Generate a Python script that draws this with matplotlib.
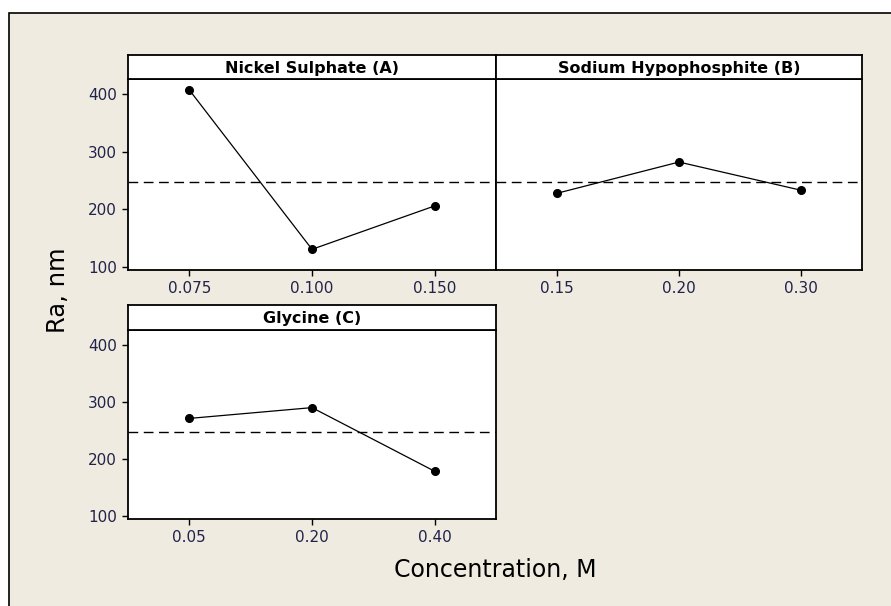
import matplotlib.pyplot as plt
from matplotlib.patches import Rectangle

# main effects data (Ra, nm)
titles = ["Nickel Sulphate (A)", "Sodium Hypophosphite (B)", "Glycine (C)"]
levels_a = ["0.075", "0.100", "0.150"]
ra_a = [407.5, 130, 205.6]
levels_b = ["0.15", "0.20", "0.30"]
ra_b = [227.6, 282, 232.9]
levels_c = ["0.05", "0.20", "0.40"]
ra_c = [271, 290, 178]
grand_mean = 246.8
yticks = [100, 200, 300, 400]

W, H = 891, 606
bg = "#efebe1"
tickcol = "#22224a"

fig = plt.figure(figsize=(W / 100, H / 100), dpi=100)
fig.patch.set_facecolor("white")
# beige frame
fig.patches.append(Rectangle((9 / W, -0.1), 2, (H - 13) / H + 0.1, transform=fig.transFigure,
                             facecolor=bg, edgecolor="black", linewidth=1.2, zorder=-10))

def px(l, t, r, b):
    return [l / W, (H - b) / H, (r - l) / W, (b - t) / H]

def panel(rect, head, title, levels, vals, show_y):
    ax = fig.add_axes(px(*rect))
    x = list(range(1, len(levels) + 1))
    ax.axhline(grand_mean, color="black", lw=1, ls=(0, (7, 4)))
    ax.plot(x, vals, "-", color="black", lw=0.9, marker="o", ms=5.5)
    ax.set_xlim(0.5, 3.5)
    ax.set_ylim(94, 426.6)
    ax.set_xticks(x)
    ax.set_xticklabels(levels)
    ax.set_yticks(yticks)
    ax.tick_params(direction="out", length=4, width=1, colors="black", labelcolor=tickcol,
                   labelsize=11, pad=4)
    if not show_y:
        ax.tick_params(axis="y", left=False, labelleft=False)
    for s in ax.spines.values():
        s.set_linewidth(1.3)
    hx = fig.add_axes(px(*head))
    hx.set_xticks([])
    hx.set_yticks([])
    for s in hx.spines.values():
        s.set_linewidth(1.3)
    hx.text(0.5, 0.45, title, ha="center", va="center", fontsize=11.5, fontweight="bold",
            transform=hx.transAxes)
    return ax

panel((128, 79, 496, 270), (128, 55, 496, 79), titles[0], levels_a, ra_a, True)
panel((496, 79, 862, 270), (496, 55, 862, 79), titles[1], levels_b, ra_b, False)
panel((128, 330, 496, 519), (128, 305, 496, 330), titles[2], levels_c, ra_c, True)

fig.text(58 / W, 1 - 290 / H, "Ra, nm", rotation=90, ha="center", va="center", fontsize=17.5)
fig.text(495 / W, 1 - 570 / H, "Concentration, M", ha="center", va="center", fontsize=17)

fig.savefig("out.png", dpi=100, facecolor=fig.get_facecolor())
